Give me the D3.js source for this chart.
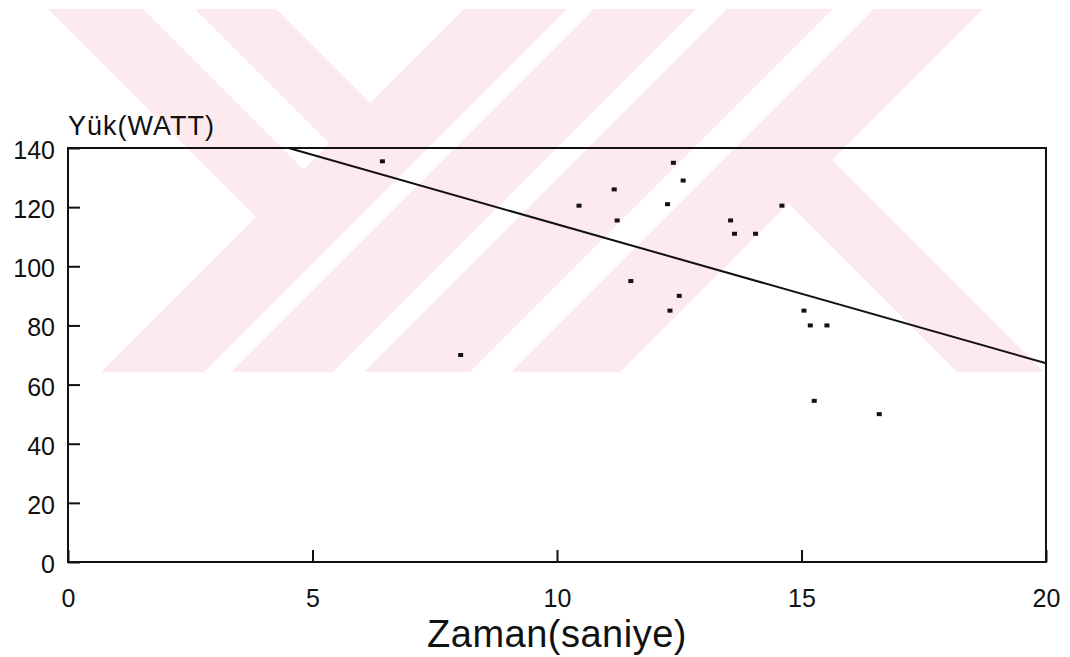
<!DOCTYPE html>
<html>
<head>
<meta charset="utf-8">
<script src="https://cdnjs.cloudflare.com/ajax/libs/d3/7.8.5/d3.min.js"></script>
<style>
  body { margin: 0; background: #fff; }
  svg { display: block; }
  text { font-family: "Liberation Sans", Arial, sans-serif; fill: #111; }
</style>
</head>
<body>
<div id="chart"></div>
<script>
// values
var timeSec  = [6.43, 8.03, 10.45, 11.17, 11.23, 11.51, 12.26, 12.31, 12.38, 12.50,
                12.58, 13.55, 13.63, 14.06, 14.60, 15.05, 15.18, 15.26, 15.52, 16.59];
var loadWatt = [135.5, 70, 120.5, 126, 115.5, 95, 121, 85, 135, 90,
                129, 115.5, 111, 111, 120.5, 85, 80, 54.5, 80, 50];

// fitted line  y = a + b*x
var fitA = 161.2;
var fitB = -4.7;

var xTicks = [0, 5, 10, 15, 20];
var yTicks = [0, 20, 40, 60, 80, 100, 120, 140];

var W = 1070, H = 657;
var margin = {left: 68, top: 148, right: 24, bottom: 95};
var width = W - margin.left - margin.right;
var height = H - margin.top - margin.bottom;

var svg = d3.select("#chart").append("svg")
    .attr("width", W)
    .attr("height", H);

// pale pink watermark of the scan (diagonal bands, u = x+y, v = x-y)
var wm = svg.append("g").attr("fill", "#fdeaee");
var wmTop = 9, wmBot = 372;
function pt(u, v) { return [(u + v) / 2, (u - v) / 2]; }
function slashBand(u0, u1) {
    return [[u0 - wmTop, wmTop], [u1 - wmTop, wmTop], [u1 - wmBot, wmBot], [u0 - wmBot, wmBot]];
}
[[473, 576], [603, 705], [736, 842], [883, 992]].forEach(function (b) {
    wm.append("polygon").attr("points", slashBand(b[0], b[1]).join(" "));
});
// back-slash arms on the left, ending at the first band
[[39, 134], [186, 267]].forEach(function (b) {
    var p = [[b[0] + wmTop, wmTop], [b[1] + wmTop, wmTop], pt(500, b[1]), pt(500, b[0])];
    wm.append("polygon").attr("points", p.join(" "));
});
// back-slash leg on the right, starting at the last band
(function () {
    var v0 = 585, v1 = 672;
    var p = [pt(960, v0), pt(960, v1), [v1 + wmBot, wmBot], [v0 + wmBot, wmBot]];
    wm.append("polygon").attr("points", p.join(" "));
})();

var x = d3.scaleLinear().domain([0, 20]).range([0, width]);
var y = d3.scaleLinear().domain([0, 140]).range([height, 0]);

var g = svg.append("g")
    .attr("transform", "translate(" + margin.left + "," + margin.top + ")");

var xAxis = g.append("g")
    .attr("transform", "translate(0," + height + ")")
    .call(d3.axisBottom(x).tickValues(xTicks).tickSize(-12).tickPadding(27));
xAxis.select(".domain").remove();
xAxis.selectAll("line").attr("stroke", "#111").attr("stroke-width", 2);
xAxis.selectAll("text").attr("font-size", 25).style("font-family", null);

var yAxis = g.append("g")
    .call(d3.axisLeft(y).tickValues(yTicks).tickSize(-12).tickPadding(13));
yAxis.select(".domain").remove();
yAxis.selectAll("line").attr("stroke", "#111").attr("stroke-width", 2);
yAxis.selectAll("text").attr("font-size", 25).attr("dy", "0.42em").style("font-family", null);

// frame
g.append("rect")
    .attr("width", width)
    .attr("height", height)
    .attr("fill", "none")
    .attr("stroke", "#111")
    .attr("stroke-width", 2);

// regression line, clipped at the top of the frame
var xStart = (140 - fitA) / fitB;
var fitLine = d3.line()
    .x(function (d) { return x(d); })
    .y(function (d) { return y(fitA + fitB * d); });
g.append("path")
    .datum([xStart, 20])
    .attr("d", fitLine)
    .attr("fill", "none")
    .attr("stroke", "#111")
    .attr("stroke-width", 2);

// data points
g.selectAll(".pt")
    .data(timeSec)
    .enter()
    .append("rect")
    .attr("class", "pt")
    .attr("x", function (d) { return x(d) - 2.5; })
    .attr("y", function (d, i) { return y(loadWatt[i]) - 2; })
    .attr("width", 5)
    .attr("height", 4)
    .attr("fill", "#111");

// axis titles
g.append("text")
    .attr("x", 0)
    .attr("y", -13)
    .attr("font-size", 27)
    .attr("letter-spacing", 1)
    .text("Yük(WATT)");

g.append("text")
    .attr("x", x(10))
    .attr("y", height + 85)
    .attr("text-anchor", "middle")
    .attr("font-size", 38)
    .attr("letter-spacing", 0.5)
    .text("Zaman(saniye)");
</script>
</body>
</html>
